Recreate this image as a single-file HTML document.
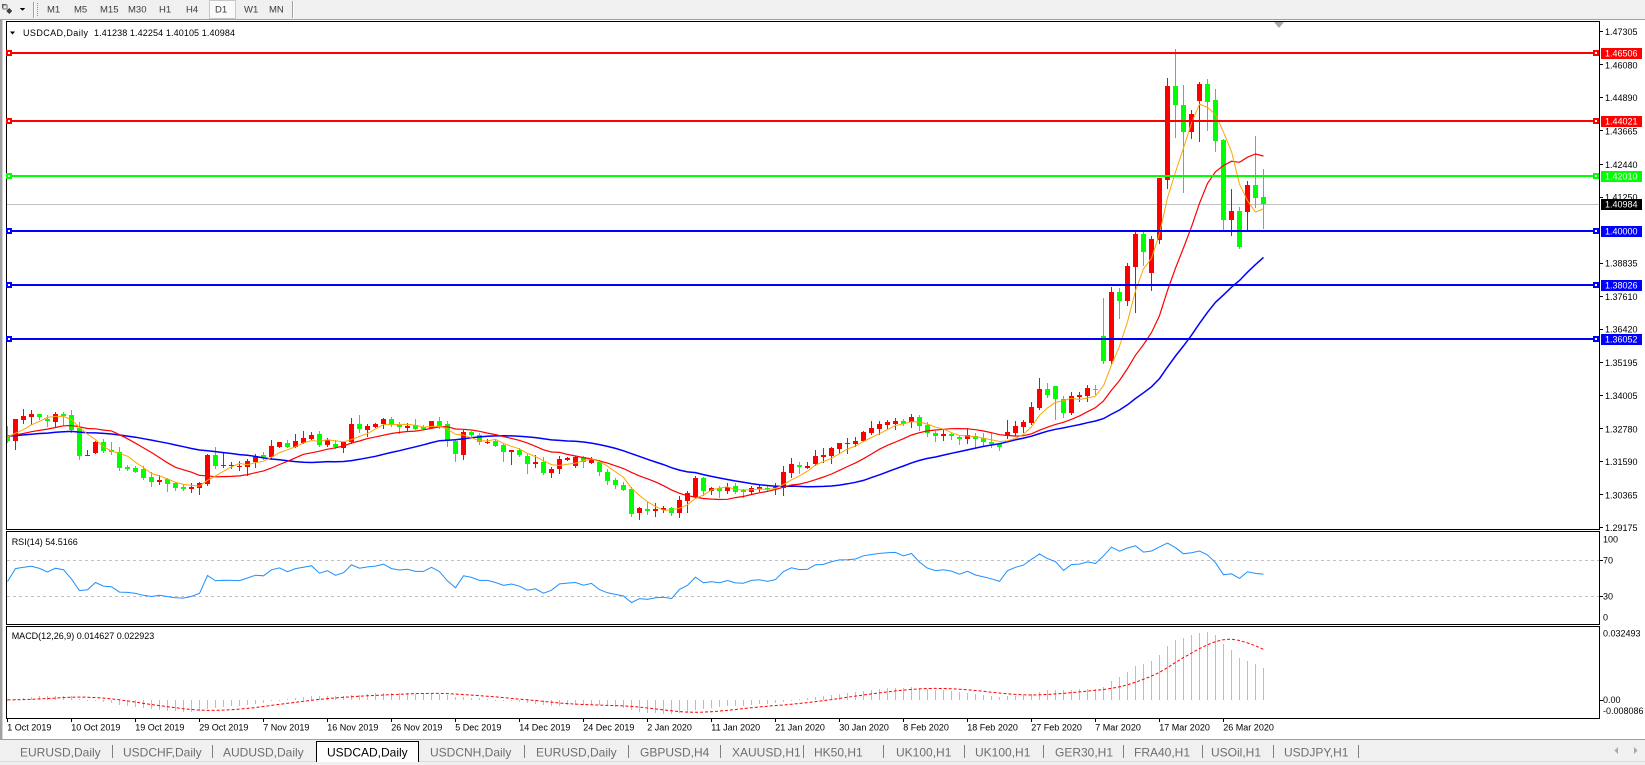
<!DOCTYPE html>
<html><head><meta charset="utf-8">
<style>
html,body{margin:0;padding:0;background:#fff;width:1645px;height:765px;overflow:hidden;}
svg{display:block;}
</style></head>
<body>
<svg id="s" width="1645" height="765" viewBox="0 0 1645 765" xmlns="http://www.w3.org/2000/svg" font-family="Liberation Sans, Arial, sans-serif">
<defs>
<clipPath id="cm"><rect x="7" y="22" width="1592" height="507"/></clipPath>
<clipPath id="cr"><rect x="7" y="532" width="1592" height="92"/></clipPath>
<clipPath id="cd"><rect x="7" y="627" width="1592" height="91"/></clipPath>
</defs>
<!-- toolbar -->
<rect x="0" y="0" width="1645" height="19" fill="#f0f0f0"/>
<rect x="0" y="19" width="1645" height="1" fill="#a0a0a0"/>
<g shape-rendering="crispEdges">
<rect x="2" y="4" width="4" height="1" fill="#505050"/><rect x="2" y="4" width="1" height="4" fill="#505050"/>
<rect x="3" y="5" width="4" height="4" fill="none" stroke="#707070" stroke-width="0.8"/>
<polygon points="9,8 12,11 9,14 6,11" fill="#404040"/>
<polygon points="20,8 25,8 22.5,11" fill="#000"/>
<rect x="33" y="2" width="1" height="16" fill="#a0a0a0"/><rect x="34" y="2" width="1" height="16" fill="#fff"/>
<line x1="37.5" y1="3" x2="37.5" y2="16" stroke="#909090" stroke-dasharray="1,1"/>
<rect x="209.5" y="0.5" width="26" height="18" fill="#fafafa" stroke="#c8c8c8"/>
<rect x="292" y="1" width="1" height="17" fill="#a0a0a0"/><rect x="293" y="1" width="1" height="17" fill="#fff"/>
</g>
<g font-size="9.5" fill="#3c3c3c">
<text x="47" y="12.6">M1</text><text x="74" y="12.6">M5</text><text x="100" y="12.6">M15</text><text x="128" y="12.6">M30</text>
<text x="159" y="12.6">H1</text><text x="186" y="12.6">H4</text><text x="215" y="12.6">D1</text><text x="244" y="12.6">W1</text><text x="269" y="12.6">MN</text>
</g>
<!-- window left band -->
<rect x="0" y="20" width="2" height="719" fill="#a0a0a0"/>
<rect x="2" y="20" width="1" height="719" fill="#d4d4d4"/>
<!-- panel frames -->
<g fill="#000" shape-rendering="crispEdges">
<rect x="6" y="21" width="1594" height="1"/><rect x="6" y="529" width="1594" height="1"/>
<rect x="6" y="21" width="1" height="509"/><rect x="1599" y="21" width="1" height="509"/>
<rect x="6" y="531" width="1594" height="1"/><rect x="6" y="624" width="1594" height="1"/>
<rect x="6" y="531" width="1" height="94"/><rect x="1599" y="531" width="1" height="94"/>
<rect x="6" y="626" width="1594" height="1"/><rect x="6" y="718" width="1594" height="1"/>
<rect x="6" y="626" width="1" height="93"/><rect x="1599" y="626" width="1" height="93"/>
</g>
<g id="dyn"></g>
<!-- header -->
<polygon points="10,31.5 15,31.5 12.5,34.5" fill="#000"/>
<text x="23" y="36" font-size="9" fill="#000" textLength="65">USDCAD,Daily</text>
<text x="94" y="36" font-size="9" fill="#000" textLength="141">1.41238 1.42254 1.40105 1.40984</text>
<polygon points="1274,22 1284,22 1279,28" fill="#a8a8a8"/>
<text x="11.7" y="545" font-size="9" fill="#000">RSI(14) 54.5166</text>
<text x="11.7" y="639" font-size="9" fill="#000">MACD(12,26,9) 0.014627 0.022923</text>
<!-- right axis main -->
<g font-size="9" fill="#000">
<text x="1605" y="35">1.47305</text><text x="1605" y="68.5">1.46080</text><text x="1605" y="101">1.44890</text>
<text x="1605" y="134.6">1.43665</text><text x="1605" y="168">1.42440</text><text x="1605" y="200.6">1.41250</text>
<text x="1605" y="266.6">1.38835</text><text x="1605" y="300.2">1.37610</text><text x="1605" y="332.7">1.36420</text>
<text x="1605" y="366.2">1.35195</text><text x="1605" y="398.8">1.34005</text><text x="1605" y="432.3">1.32780</text>
<text x="1605" y="464.9">1.31590</text><text x="1605" y="498.4">1.30365</text><text x="1605" y="531">1.29175</text>
</g>
<g fill="#000" shape-rendering="crispEdges">
<rect x="1600" y="31" width="3" height="1"/><rect x="1600" y="64" width="3" height="1"/><rect x="1600" y="97" width="3" height="1"/>
<rect x="1600" y="130" width="3" height="1"/><rect x="1600" y="164" width="3" height="1"/><rect x="1600" y="197" width="3" height="1"/>
<rect x="1600" y="263" width="3" height="1"/><rect x="1600" y="296" width="3" height="1"/><rect x="1600" y="329" width="3" height="1"/>
<rect x="1600" y="362" width="3" height="1"/><rect x="1600" y="395" width="3" height="1"/><rect x="1600" y="428" width="3" height="1"/>
<rect x="1600" y="461" width="3" height="1"/><rect x="1600" y="494" width="3" height="1"/><rect x="1600" y="527" width="3" height="1"/>
<rect x="1600" y="560" width="3" height="1"/><rect x="1600" y="596" width="3" height="1"/><rect x="1600" y="700" width="3" height="1"/>
</g>
<g id="boxes"></g>
<!-- RSI / MACD axis -->
<g font-size="9" fill="#000">
<text x="1603" y="542.5">100</text><text x="1603" y="563.5">70</text><text x="1603" y="599.5">30</text><text x="1603" y="620.5">0</text>
<text x="1603" y="636.5">0.032493</text><text x="1603" y="703.2">0.00</text><text x="1603" y="714.2">-0.008086</text>
</g>
<g id="dates" font-size="9" fill="#000"></g>
<!-- tabs -->
<rect x="0" y="739" width="1645" height="26" fill="#f0f0f0"/>
<rect x="0" y="739" width="1645" height="1" fill="#a0a0a0"/>
<rect x="0" y="761" width="1645" height="1" fill="#dcdcdc"/>
<rect x="316" y="741" width="103" height="21" fill="#fff"/>
<g fill="#000" shape-rendering="crispEdges">
<rect x="316" y="741" width="103" height="1"/><rect x="316" y="741" width="1" height="21"/><rect x="418" y="741" width="1" height="21"/>
</g>
<g id="tabs" font-size="12" fill="#6e6e6e"></g>
<polygon points="1618,747 1618,754 1614.5,750.5" fill="#a8a8a8"/>
<polygon points="1634,747 1634,754 1637.5,750.5" fill="#a8a8a8"/>
</svg>
<script>
(function(){
const A=[
['g',287,303,257,305],['r',237,302,237,327],['r',228,240,207,248],['r',222,230,210,252],['g',222,230,222,236],
['g',238,244,225,258],['r',222,245,215,258],['g',222,228,217,256],['g',225,270,210,276],['g',265,348,245,357],
['r',344,346,330,346],['r',305,338,302,338],['g',306,332,298,336],['g',330,337,305,341],['g',336,383,320,390],
['g',380,386,375,390],['g',385,395,378,396],['g',387,413,378,418],['g',410,425,395,437],['r',420,426,406,432],
['g',418,432,413,452],['g',430,443,425,450],['g',440,446,432,449],['r',440,446,430,455],['r',430,443,425,461],
['r',345,432,342,436],['g',345,378,320,384],['r',375,378,335,382],['r',376,379,365,385],['r',377,380,363,389],
['r',364,380,358,404],['r',349,367,342,382],['g',345,352,335,356],['r',318,352,300,356],['r',306,320,306,320],
['g',308,322,300,322],['r',303,320,283,320],['r',294,309,272,310],['r',284,297,275,297],['g',282,315,274,318],
['r',300,315,295,318],['g',311,321,300,323],['r',306,323,305,337],['r',252,306,235,310],['g',252,267,225,275],
['r',258,271,252,288],['r',252,260,249,262],['r',238,252,235,265],['g',238,256,232,258],['g',254,262,247,278],
['r',258,263,250,273],['g',256,266,237,268],['g',262,266,255,268],['r',244,263,244,263],['g',243,260,232,265],
['g',252,302,243,318],['g',303,343,297,364],['r',276,344,270,357],['g',276,286,272,290],['g',286,305,278,313],
['r',305,308,298,310],['g',303,318,298,318],['g',316,337,308,362],['r',330,337,330,371],['g',330,344,325,347],
['g',348,372,340,400],['r',366,372,345,380],['g',366,400,350,402],['r',387,400,380,410],['r',357,388,347,398],
['r',353,359,350,360],['r',350,378,347,380],['g',352,366,349,382],['r',358,368,352,370],['g',366,397,360,404],
['g',396,422,388,432],['g',420,435,415,443],['g',435,449,425,450],['g',447,522,440,528],['r',505,518,500,537],
['g',508,514,485,522],['r',507,513,490,528],['r',505,511,498,515],['g',505,518,500,525],['r',480,518,468,530],
['r',460,482,452,515],['r',413,470,408,475],['g',413,452,410,465],['r',445,452,442,462],['g',445,452,438,470],
['r',440,452,430,458],['g',438,455,430,460],['g',450,457,447,472],['r',443,457,437,460],['r',440,447,436,452],
['g',443,448,437,450],['r',440,443,430,462],['r',397,443,378,465],['r',372,398,353,410],['g',376,380,365,398],
['r',378,383,367,385],['r',348,373,330,375],['r',345,350,325,365],['r',324,347,322,368],['r',310,326,308,340],
['r',309,312,295,338],['r',303,312,292,318],['r',276,302,272,303],['r',264,280,243,282],['r',253,268,243,283],
['r',246,255,240,265],['r',243,252,235,266],['g',242,252,238,254],['r',232,247,223,260],['g',231,257,226,270],
['g',255,278,246,287],['g',278,287,272,302],['r',282,287,270,301],['g',282,287,278,296],['g',290,298,285,312],
['r',285,298,265,310],['g',287,298,280,320],['g',295,305,280,318],['g',306,312,280,320],['g',313,322,308,330],
['r',277,288,240,295],['r',258,278,243,285],['r',245,260,240,275],['r',202,248,187,252],['r',147,205,113,208],
['g',147,165,128,172],['g',137,177,137,237],['g',178,218,168,232],['r',168,218,155,222],['r',164,172,155,182],
['r',143,168,135,183],['g',146,150,136,162]];
const B=[
['g',336,360.7,298.3,363.3],['r',291.7,360.7,286.7,363.3],['g',291.7,301,288.3,318.3],['r',265.7,301,263.3,305],
['r',234,266.7,232.3,311.7],['g',234,251.7,232.3,265],['r',239,273.3,235.7,290],['r',178.3,240,177.7,243.3],
['r',86,180,78.3,188.3],['g',86,105,49,136.7],['g',105,131.7,85,191.7],['r',114,131.7,110,138.3],
['r',84,101,82.3,141],['g',84,101.7,79,130],['g',100,141,89,151],['g',140,220,139.3,230],
['r',211,220,189,235],['g',211,246.7,206.7,248.3],['r',185,211.7,181,229],['g',185,197.7,136,206.7],
['g',197,204,169.2,228]];
const bars=A.map(b=>[b[0],340+b[1]/3,340+b[2]/3,340+b[3]/3,340+b[4]/3]).concat(B);
const N=bars.length;
const X=i=>7+8*i;
const P=y=>1.46506-(y-52.7)/2739;
const Y=p=>52.7+(1.46506-p)*2739;
const PRE=40;
const all=[];
for(let k=0;k<PRE;k++)all.push(P(436)+((k%2)?0.0008:-0.0008));
bars.forEach(b=>all.push(P(b[0]==='r'?b[1]:b[2])));
let s='';
s+='<g clip-path="url(#cm)" shape-rendering="crispEdges">';
s+='<rect x="7" y="204" width="1592" height="1" fill="#c0c0c0"/>';
bars.forEach((b,i)=>{
 const c=X(i);const col=b[0]==='r'?'#ff0000':'#00ff00';
 const wt=Math.round(b[3]),wb=Math.round(b[4]);
 let bt=Math.round(b[1]),bb=Math.round(b[2]);if(bb-bt<1)bb=bt+1;
 s+=`<rect x="${c}" y="${wt}" width="1" height="${Math.max(1,wb-wt+1)}" fill="${col}"/>`;
 s+=`<rect x="${c-2}" y="${bt}" width="5" height="${bb-bt}" fill="${col}"/>`;
});
s+='</g>';
function sma(n,j){let t=0;for(let k=j-n+1;k<=j;k++)t+=all[k];return t/n;}
function maPts(n){const p=[];for(let i=0;i<N;i++)p.push(X(i)+0.5+','+Y(sma(n,i+PRE)).toFixed(1));return p.join(' ');}
s+='<g clip-path="url(#cm)" fill="none">';
s+=`<polyline points="${maPts(30)}" stroke="#0000ff" stroke-width="1.5"/>`;
s+=`<polyline points="${maPts(13)}" stroke="#ff0000" stroke-width="1.2"/>`;
s+=`<polyline points="${maPts(5)}" stroke="#ffa500" stroke-width="1"/>`;
s+='</g>';
const L=[[53,'#ff0000'],[121,'#ff0000'],[176,'#00ff00'],[231,'#0000ff'],[285,'#0000ff'],[339,'#0000ff']];
s+='<g shape-rendering="crispEdges">';
L.forEach(l=>{
 const y=l[0];
 s+=`<rect x="7" y="${y-1}" width="1592" height="2" fill="${l[1]}"/>`;
 s+=`<rect x="6" y="${y-3}" width="6" height="6" fill="${l[1]}"/><rect x="8" y="${y-1}" width="2" height="2" fill="#fff"/>`;
 s+=`<rect x="1593" y="${y-3}" width="6" height="6" fill="${l[1]}"/><rect x="1595" y="${y-1}" width="2" height="2" fill="#fff"/>`;
});
s+='</g>';
const rsi=[];let ag=0,al=0;
for(let i=1;i<all.length;i++){const d=all[i]-all[i-1];const g=d>0?d:0,l=d<0?-d:0;
 if(i<=14){ag+=g/14;al+=l/14;}else{ag=(ag*13+g)/14;al=(al*13+l)/14;}
 rsi[i]=al===0?100:100-100/(1+ag/al);}
const RY=v=>623.3-v*0.9;
s+='<g clip-path="url(#cr)">';
s+='<line x1="7" y1="560.5" x2="1599" y2="560.5" stroke="#c0c0c0" stroke-dasharray="3,3"/>';
s+='<line x1="7" y1="596.5" x2="1599" y2="596.5" stroke="#c0c0c0" stroke-dasharray="3,3"/>';
let rp=[];for(let i=0;i<N;i++)rp.push(X(i)+0.5+','+RY(rsi[i+PRE]).toFixed(1));
s+=`<polyline points="${rp.join(' ')}" fill="none" stroke="#1e90ff" stroke-width="1"/>`;
s+='</g>';
function ema(n){const k=2/(n+1);const o=[];let e=all[0];all.forEach((v,i)=>{e=i?e+k*(v-e):v;o.push(e);});return o;}
const e12=ema(12),e26=ema(26);
const macd=all.map((v,i)=>e12[i]-e26[i]);
const sig=macd.map((v,i)=>{if(i<8)return v;let t=0;for(let k=i-8;k<=i;k++)t+=macd[k];return t/9;});
const MY=v=>700-v*2218;
s+='<g clip-path="url(#cd)" shape-rendering="crispEdges">';
for(let i=0;i<N;i++){const y=MY(macd[i+PRE]);const t=Math.round(Math.min(y,700)),b=Math.round(Math.max(y,700));
 s+=`<rect x="${X(i)}" y="${t}" width="1" height="${Math.max(1,b-t)}" fill="#bdbdbd"/>`;}
s+='</g>';
let sp=[];for(let i=0;i<N;i++)sp.push(X(i)+0.5+','+MY(sig[i+PRE]).toFixed(1));
s+=`<g clip-path="url(#cd)"><polyline points="${sp.join(' ')}" fill="none" stroke="#ff0000" stroke-width="1" stroke-dasharray="3,2"/></g>`;
document.getElementById('dyn').innerHTML=s;
let bx='';
const BX=[[53,'#ff0000','1.46506'],[121,'#ff0000','1.44021'],[176,'#00ff00','1.42010'],[204,'#000000','1.40984'],[231,'#0000ff','1.40000'],[285,'#0000ff','1.38026'],[339,'#0000ff','1.36052']];
BX.forEach(b=>{bx+=`<rect x="1601" y="${b[0]-5}" width="41" height="11" fill="${b[1]}" shape-rendering="crispEdges"/><text x="1605" y="${b[0]+3.5}" font-size="9" fill="#fff">${b[2]}</text>`;});
document.getElementById('boxes').innerHTML=bx;
const D=['1 Oct 2019','10 Oct 2019','19 Oct 2019','29 Oct 2019','7 Nov 2019','16 Nov 2019','26 Nov 2019','5 Dec 2019','14 Dec 2019','24 Dec 2019','2 Jan 2020','11 Jan 2020','21 Jan 2020','30 Jan 2020','8 Feb 2020','18 Feb 2020','27 Feb 2020','7 Mar 2020','17 Mar 2020','26 Mar 2020'];
let ds='';D.forEach((d,k)=>{const x=7+64*k;ds+=`<rect x="${x}" y="718" width="1" height="4" fill="#000"/><text x="${x+0.3}" y="730.5">${d}</text>`;});
document.getElementById('dates').innerHTML=ds;
const T=[[20,'EURUSD,Daily'],[123,'USDCHF,Daily'],[223,'AUDUSD,Daily'],[327,'USDCAD,Daily',1],[430,'USDCNH,Daily'],[536,'EURUSD,Daily'],[640,'GBPUSD,H4'],[732,'XAUUSD,H1'],[814,'HK50,H1'],[896,'UK100,H1'],[975,'UK100,H1'],[1055,'GER30,H1'],[1134,'FRA40,H1'],[1211,'USOil,H1'],[1284,'USDJPY,H1']];
const S=[112,212,524,628,720,803,883,964,1043,1123,1202,1273,1358];
let ts='';T.forEach(t=>{ts+=`<text x="${t[0]}" y="756.3"${t[2]?' fill="#000"':''}>${t[1]}</text>`;});
S.forEach(x=>{ts+=`<rect x="${x}" y="745" width="1" height="13" fill="#808080"/>`;});
document.getElementById('tabs').innerHTML=ts;
})();
</script>
</body></html>
